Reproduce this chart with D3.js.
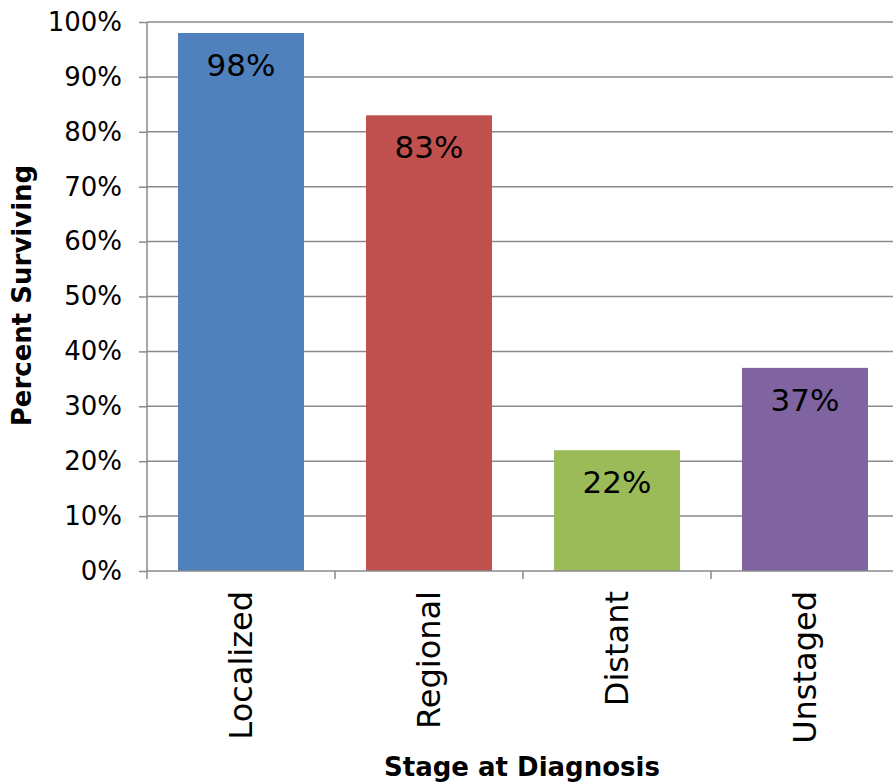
<!DOCTYPE html>
<html>
<head>
<meta charset="utf-8">
<script src="https://cdn.jsdelivr.net/npm/d3@7"></script>
<style>
  html, body { margin: 0; padding: 0; background: #fff; }
  svg { display: block; font-family: "DejaVu Sans", sans-serif; }
</style>
</head>
<body>
<svg id="chart" width="893" height="782"></svg>
<script>
// Five-year relative survival by stage at diagnosis
const stages = ["Localized", "Regional", "Distant", "Unstaged"];
const survival = [98, 83, 22, 37];
const barColors = ["#4F81BD", "#C0504D", "#9BBB59", "#8064A2"];
const yTicks = [0, 10, 20, 30, 40, 50, 60, 70, 80, 90, 100];

const svg = d3.select("#chart");
const W = 893, H = 782;
const plotLeft = 147, plotTop = 22, plotBottom = 571, plotRight = 899;
const gridColor = "#8a8a8a";

const x = d3.scaleBand()
  .domain(stages)
  .range([plotLeft, plotRight])
  .paddingInner(0.33)
  .paddingOuter(0.165);

const y = d3.scaleLinear().domain([0, 100]).range([plotBottom, plotTop]);

// horizontal gridlines
svg.append("g")
  .selectAll("line")
  .data(yTicks.filter(t => t > 0))
  .join("line")
  .attr("x1", plotLeft).attr("x2", W)
  .attr("y1", d => y(d)).attr("y2", d => y(d))
  .attr("stroke", gridColor).attr("stroke-width", 1.5);

// bars
svg.append("g")
  .selectAll("rect")
  .data(stages)
  .join("rect")
  .attr("x", d => x(d))
  .attr("width", x.bandwidth())
  .attr("y", (d, i) => y(survival[i]))
  .attr("height", (d, i) => y(0) - y(survival[i]))
  .attr("fill", (d, i) => barColors[i]);

// y axis
const yAxis = svg.append("g")
  .attr("transform", `translate(${plotLeft},0)`)
  .call(d3.axisLeft(y).tickValues(yTicks).tickFormat(d => d + "%").tickSize(8).tickPadding(17));
yAxis.select(".domain").attr("stroke", gridColor).attr("stroke-width", 1.5).attr("d", `M0,${plotTop}V${plotBottom}`);
yAxis.selectAll(".tick line").attr("stroke", gridColor).attr("stroke-width", 1.5);
yAxis.selectAll(".tick text")
  .attr("font-size", 26).attr("fill", "#000")
  .attr("font-family", "DejaVu Sans, sans-serif");

// x axis: baseline and boundary ticks between categories
const step = x.step();
const xg = svg.append("g");
xg.append("line")
  .attr("x1", plotLeft).attr("x2", W)
  .attr("y1", plotBottom).attr("y2", plotBottom)
  .attr("stroke", gridColor).attr("stroke-width", 1.5);
xg.selectAll("line.bt")
  .data(stages)
  .join("line")
  .attr("class", "bt")
  .attr("x1", d => x(d) - step * x.paddingOuter())
  .attr("x2", d => x(d) - step * x.paddingOuter())
  .attr("y1", plotBottom).attr("y2", plotBottom + 8)
  .attr("stroke", gridColor).attr("stroke-width", 1.5);

// rotated category labels
xg.selectAll("text")
  .data(stages)
  .join("text")
  .attr("transform", d => `translate(${x(d) + x.bandwidth() / 2},${plotBottom + 20}) rotate(-90)`)
  .attr("text-anchor", "end")
  .attr("dy", "0.35em")
  .attr("font-size", 32)
  .attr("fill", "#000")
  .text(d => d);

// value labels inside bars
svg.append("g")
  .selectAll("text")
  .data(stages)
  .join("text")
  .attr("x", d => x(d) + x.bandwidth() / 2)
  .attr("y", (d, i) => y(survival[i]) + 43)
  .attr("text-anchor", "middle")
  .attr("font-size", 31)
  .attr("fill", "#000")
  .text((d, i) => survival[i] + "%");

// axis titles
svg.append("text")
  .attr("x", 522).attr("y", 776)
  .attr("text-anchor", "middle")
  .attr("font-size", 26).attr("font-weight", "bold")
  .text("Stage at Diagnosis");

svg.append("text")
  .attr("transform", `translate(31,${(163 + 428) / 2}) rotate(-90)`)
  .attr("text-anchor", "middle")
  .attr("font-size", 26).attr("font-weight", "bold")
  .text("Percent Surviving");
</script>
</body>
</html>
